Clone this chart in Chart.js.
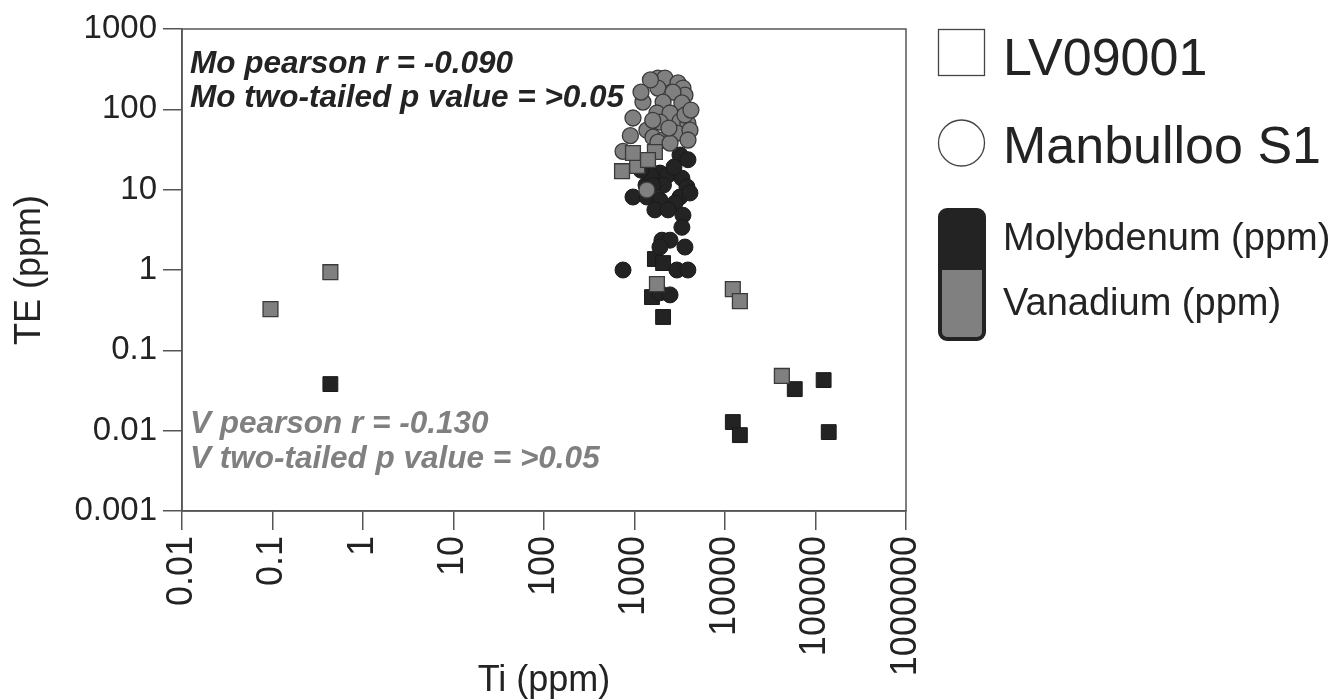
<!DOCTYPE html>
<html>
<head>
<meta charset="utf-8">
<title>TE vs Ti</title>
<script src="https://cdn.jsdelivr.net/npm/chart.js@4"></script>
<style>
  html, body { margin: 0; padding: 0; background: #fff; }
  canvas { display: block; }
</style>
</head>
<body>
<canvas id="teChart" width="1343" height="699"></canvas>
<script>
const xTicks = [0.01, 0.1, 1, 10, 100, 1000, 10000, 100000, 1000000];
const yTicks = [0.001, 0.01, 0.1, 1, 10, 100, 1000];

// LV09001 (squares), Ti vs Mo
const lvMoTi = [0.436, 12200, 14600, 59000, 123000, 140000, 1560, 2070, 1680, 2070];
const lvMo   = [0.038, 0.0128, 0.0088, 0.0329, 0.0426, 0.0096, 0.46, 0.26, 1.37, 1.22];

// LV09001 (squares), Ti vs V
const lvVTi = [0.095, 0.436, 12200, 14600, 42500, 1770, 728, 1070, 962, 1680, 1410];
const lvV   = [0.326, 0.94, 0.578, 0.41, 0.048, 0.667, 17, 19.7, 28.6, 29.4, 23.4];

// Manbulloo S1 (circles), Ti vs Mo
const msMoTi = [747, 962, 1370, 1910, 2340, 3340, 3800, 3180, 1910, 1680, 2800, 3430, 3340, 2010,
                2470, 3610, 1910, 2940, 3890, 1910, 2470, 3180, 2730, 4100, 1340, 2090, 1500,
                1600, 1180, 3900, 2350];
const msMo   = [1.0, 8.1, 8.1, 16.1, 15.2, 13.9, 10.8, 8.1, 7.4, 5.6, 6.8, 4.8, 3.4, 2.35,
                2.35, 1.93, 1.93, 1.0, 1.0, 0.52, 0.49, 27, 19.1, 9.1, 11.4, 11.4, 15.2,
                11.3, 17.5, 23.6, 5.6];

// Manbulloo S1 (circles), Ti vs V
const msVTi = [1815, 2170, 3020, 3430, 1815, 3610, 2660, 1240, 2070, 3340, 1770, 2470, 3180, 3890,
               962, 1370, 1910, 2940, 4100, 1600, 2070, 1815, 747, 1370, 2470, 3610, 1500,
               1180, 2400, 3900, 1590, 4200, 900];
const msV   = [245, 245, 213, 184, 184, 150, 164, 123, 123, 120, 90, 90, 71, 67,
               78, 55, 69.5, 50.7, 55, 45, 41.5, 39, 30, 9.9, 38, 85, 232,
               164, 58.5, 41.5, 73, 98, 47];

const DARK = '#232323';
const GREY = '#808080';
const FONT = '"Liberation Sans", Arial, Helvetica, sans-serif';

function pts(xs, ys) {
    return xs.map((x, i) => ({x: x, y: ys[i]}));
}

// frame round the plot, statistics text and the legend on the right
const extras = {
    id: 'extras',
    beforeDatasetsDraw(chart) {
        const {ctx, chartArea: a} = chart;
        ctx.save();
        ctx.strokeStyle = '#555';
        ctx.lineWidth = 1.5;
        ctx.strokeRect(a.left, a.top, a.right - a.left, a.bottom - a.top);
        ctx.restore();
    },
    afterDraw(chart) {
        const ctx = chart.ctx;
        ctx.save();
        ctx.textBaseline = 'alphabetic';
        ctx.textAlign = 'left';

        ctx.font = 'italic bold 31.5px ' + FONT;
        ctx.fillStyle = DARK;
        ctx.fillText('Mo pearson r = -0.090', 190, 73);
        ctx.fillText('Mo two-tailed p value = >0.05', 190, 107);
        ctx.fillStyle = GREY;
        ctx.fillText('V pearson r = -0.130', 190, 433);
        ctx.fillText('V two-tailed p value = >0.05', 190, 468);

        // legend symbols
        ctx.strokeStyle = '#444';
        ctx.lineWidth = 1.3;
        ctx.strokeRect(938.5, 29.5, 46, 46);
        ctx.beginPath();
        ctx.arc(961.5, 143, 23, 0, Math.PI * 2);
        ctx.stroke();

        // colour bar
        ctx.beginPath();
        ctx.roundRect(940, 210, 44, 129, 7);
        ctx.fillStyle = GREY;
        ctx.fill();
        ctx.save();
        ctx.clip();
        ctx.fillStyle = DARK;
        ctx.fillRect(938, 208, 48, 62);
        ctx.restore();
        ctx.strokeStyle = DARK;
        ctx.lineWidth = 4;
        ctx.stroke();

        ctx.fillStyle = DARK;
        ctx.font = '52px ' + FONT;
        ctx.fillText('LV09001', 1003, 75);
        ctx.fillText('Manbulloo S1', 1003, 163);
        ctx.font = '38px ' + FONT;
        ctx.fillText('Molybdenum (ppm)', 1003, 250);
        ctx.fillText('Vanadium (ppm)', 1003, 315);
        ctx.restore();
    }
};

const ctx = document.getElementById('teChart').getContext('2d');
new Chart(ctx, {
    type: 'scatter',
    data: {
        datasets: [
            {
                label: 'LV09001 V', data: pts(lvVTi, lvV), order: 0,
                pointStyle: 'rect', pointRadius: 10.5,
                backgroundColor: GREY, borderColor: '#3a3a3a', borderWidth: 1.3
            },
            {
                label: 'Manbulloo S1 V', data: pts(msVTi, msV), order: 1,
                pointStyle: 'circle', pointRadius: 8,
                backgroundColor: GREY, borderColor: '#3a3a3a', borderWidth: 1.3
            },
            {
                label: 'Manbulloo S1 Mo', data: pts(msMoTi, msMo), order: 2,
                pointStyle: 'circle', pointRadius: 8,
                backgroundColor: DARK, borderColor: '#1a1a1a', borderWidth: 1
            },
            {
                label: 'LV09001 Mo', data: pts(lvMoTi, lvMo), order: 3,
                pointStyle: 'rect', pointRadius: 10.5,
                backgroundColor: DARK, borderColor: '#1a1a1a', borderWidth: 1
            }
        ]
    },
    options: {
        responsive: false,
        animation: false,
        layout: { padding: { top: 29, right: 437, bottom: 0, left: 0 } },
        plugins: {
            legend: { display: false },
            tooltip: { enabled: false }
        },
        scales: {
            x: {
                type: 'logarithmic',
                min: 0.01, max: 1000000,
                afterBuildTicks: s => { s.ticks = xTicks.map(v => ({value: v})); },
                afterFit: s => { s.height = 188; },
                ticks: {
                    autoSkip: false, minRotation: 90, maxRotation: 90,
                    color: DARK, padding: 6,
                    font: { family: FONT, size: 36 },
                    callback: v => String(v)
                },
                grid: { drawOnChartArea: false, drawTicks: true, tickLength: 19, color: '#555', lineWidth: 1.5 },
                border: { display: true, color: '#555', width: 1.5 },
                title: {
                    display: true, text: 'Ti (ppm)', color: DARK,
                    font: { family: FONT, size: 36 },
                    padding: { top: 0, bottom: -4 }
                }
            },
            y: {
                type: 'logarithmic',
                min: 0.001, max: 1000,
                afterBuildTicks: s => { s.ticks = yTicks.map(v => ({value: v})); },
                afterFit: s => { s.width = 182; },
                ticks: {
                    color: DARK, padding: 6,
                    font: { family: FONT, size: 33 },
                    callback: v => String(v)
                },
                grid: { drawOnChartArea: false, drawTicks: true, tickLength: 19, color: '#555', lineWidth: 1.5 },
                border: { display: true, color: '#555', width: 1.5 },
                title: {
                    display: true, text: 'TE (ppm)', color: DARK,
                    font: { family: FONT, size: 36 },
                    padding: { top: 8, bottom: 0 }
                }
            }
        }
    },
    plugins: [extras]
});
</script>
</body>
</html>
